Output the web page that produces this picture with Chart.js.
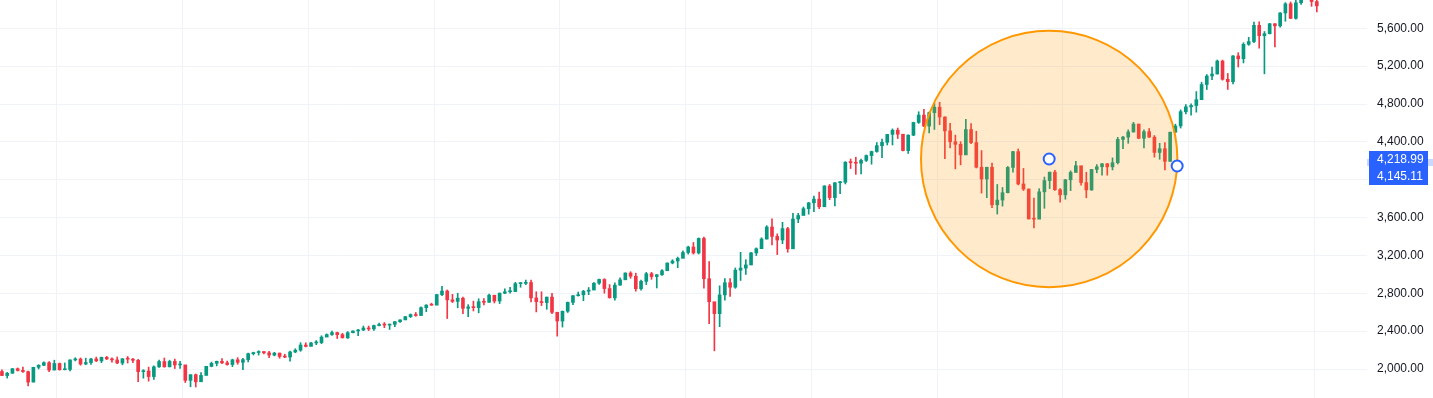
<!DOCTYPE html>
<html>
<head>
<meta charset="utf-8">
<script src="https://cdn.jsdelivr.net/npm/chart.js@4.4.1/dist/chart.umd.min.js"></script>
<style>
  html, body { margin: 0; padding: 0; background: #fff; overflow: hidden; }
</style>
</head>
<body>
<canvas id="chart" width="1433" height="398"></canvas>
<script>
// half-month candles, from the second half of July 2014 to early January 2025
const firstOpen = 1973;

const closes = [
  1931, 1955, 2003, 1985, 1972, 1862, 2018, 2039, 2067, 1989, 2058,
  1992, 1995, 2096, 2105, 2053, 2068, 2106, 2086, 2123, 2107, 2096, 2063, 2108, 2104, 2092, 1972, 1979, 1920, 2023, 2079, 2023, 2080, 2043, 2044,
  1880, 1940, 1865, 1932, 2028, 2060, 2081, 2065, 2047, 2097, 2071, 2099, 2162, 2174, 2184, 2171, 2147, 2168, 2133, 2126, 2180, 2199, 2253, 2239,
  2275, 2279, 2337, 2364, 2385, 2363, 2329, 2384, 2402, 2412, 2433, 2423, 2459, 2470, 2464, 2472, 2500, 2519, 2553, 2575, 2565, 2648, 2675, 2674,
  2786, 2824, 2731, 2714, 2748, 2641, 2656, 2648, 2711, 2705, 2780, 2718, 2801, 2816, 2818, 2902, 2905, 2914, 2751, 2712, 2702, 2760, 2599, 2507,
  2610, 2704, 2775, 2784, 2822, 2834, 2907, 2946, 2850, 2752, 2886, 2942, 3014, 2980, 2848, 2926, 3007, 2977, 2996, 3038, 3120, 3141, 3169, 3231,
  3289, 3226, 3380, 2954, 2711, 2585, 2783, 2912, 2864, 3044, 3066, 3100, 3227, 3271, 3373, 3500, 3401, 3363, 3483, 3270, 3585, 3622, 3694, 3756,
  3795, 3714, 3934, 3811, 3968, 3973, 4185, 4181, 4174, 4204, 4255, 4298, 4360, 4395, 4479, 4523, 4481, 4308, 4471, 4605, 4683, 4567, 4709, 4766,
  4663, 4516, 4401, 4374, 4262, 4530, 4392, 4132, 4008, 4132, 3735, 3785, 3863, 4130, 4297, 3955, 3901, 3586, 3583, 3872, 3991, 4080, 3895, 3840,
  3999, 4077, 4148, 3970, 3892, 4109, 4137, 4169, 4136, 4180, 4426, 4450, 4505, 4589, 4438, 4508, 4450, 4288, 4328, 4194, 4502, 4568, 4719, 4770,
  4784, 4846, 5006, 5096, 5117, 5254, 5061, 5036, 5308, 5278, 5431, 5460, 5631, 5522, 5543, 5648, 5626, 5762, 5859, 5705, 5870, 6032, 6075, 5882,
  5837
];

const highs = [
  1991, 1964, 2006, 2011, 2019, 1977, 2019, 2046, 2075, 2078, 2093,
  2064, 2064, 2097, 2119, 2117, 2114, 2112, 2126, 2126, 2134, 2117, 2127, 2110, 2132, 2112, 2103, 1993, 2020, 2034, 2094, 2116, 2093, 2104, 2081,
  2038, 1940, 1947, 1962, 2029, 2073, 2084, 2111, 2084, 2104, 2120, 2113, 2169, 2178, 2193, 2187, 2187, 2176, 2169, 2156, 2189, 2214, 2278, 2277,
  2283, 2301, 2351, 2371, 2401, 2390, 2378, 2396, 2404, 2418, 2454, 2454, 2463, 2484, 2491, 2475, 2500, 2520, 2557, 2582, 2597, 2657, 2680, 2695,
  2789, 2873, 2835, 2789, 2801, 2761, 2680, 2717, 2742, 2743, 2791, 2774, 2804, 2848, 2863, 2916, 2914, 2940, 2940, 2816, 2816, 2760, 2800, 2601,
  2613, 2708, 2776, 2813, 2831, 2861, 2912, 2949, 2954, 2892, 2910, 2964, 3017, 3028, 3013, 2939, 3021, 3022, 2998, 3050, 3121, 3155, 3183, 3248,
  3298, 3337, 3385, 3393, 3136, 2650, 2879, 2955, 2955, 3068, 3233, 3155, 3233, 3280, 3387, 3514, 3588, 3428, 3550, 3497, 3646, 3645, 3712, 3760,
  3826, 3870, 3937, 3950, 3970, 3983, 4191, 4219, 4238, 4218, 4262, 4302, 4393, 4430, 4480, 4537, 4546, 4479, 4475, 4608, 4718, 4743, 4714, 4808,
  4818, 4664, 4595, 4471, 4402, 4637, 4594, 4513, 4308, 4132, 4177, 3950, 3918, 4140, 4301, 4325, 4119, 3903, 3806, 3905, 4028, 4080, 4100, 3907,
  4004, 4094, 4195, 4137, 4079, 4110, 4160, 4170, 4171, 4231, 4448, 4458, 4527, 4607, 4585, 4528, 4541, 4467, 4385, 4393, 4504, 4587, 4738, 4793,
  4802, 4931, 5030, 5111, 5190, 5265, 5264, 5123, 5311, 5342, 5447, 5505, 5666, 5669, 5566, 5651, 5651, 5767, 5871, 5878, 6017, 6045, 6100, 6085,
  6022
];

const lows = [
  1930, 1904, 1955, 1978, 1964, 1821, 1862, 2001, 2034, 1973, 1990,
  1988, 1991, 1980, 2085, 2040, 2045, 2048, 2078, 2067, 2099, 2072, 2056, 2044, 2063, 2067, 1867, 1903, 1872, 1891, 2016, 2019, 2022, 2005, 2005,
  1857, 1812, 1810, 1871, 1937, 2023, 2033, 2057, 2040, 2025, 2050, 1992, 2074, 2148, 2147, 2160, 2120, 2139, 2114, 2120, 2084, 2172, 2187, 2233,
  2245, 2257, 2267, 2348, 2354, 2322, 2328, 2323, 2380, 2353, 2405, 2406, 2407, 2455, 2437, 2418, 2447, 2493, 2520, 2544, 2557, 2566, 2605, 2673,
  2682, 2776, 2533, 2702, 2647, 2585, 2553, 2613, 2594, 2676, 2704, 2698, 2691, 2795, 2802, 2818, 2864, 2891, 2710, 2603, 2670, 2631, 2584, 2347,
  2443, 2597, 2681, 2770, 2722, 2785, 2840, 2893, 2801, 2750, 2728, 2887, 2952, 2958, 2822, 2834, 2892, 2948, 2856, 2989, 3050, 3111, 3070, 3183,
  3214, 3214, 3215, 2855, 2478, 2192, 2447, 2727, 2766, 2853, 2936, 2999, 3101, 3199, 3284, 3373, 3310, 3209, 3324, 3234, 3279, 3546, 3633, 3636,
  3663, 3694, 3725, 3789, 3723, 3853, 3955, 4118, 4057, 4062, 4192, 4164, 4290, 4233, 4367, 4367, 4435, 4305, 4278, 4465, 4595, 4560, 4495, 4531,
  4582, 4222, 4335, 4115, 4157, 4270, 4381, 4124, 3859, 3810, 3705, 3637, 3721, 3860, 4080, 3945, 3886, 3584, 3491, 3647, 3698, 3906, 3886, 3764,
  3794, 3885, 4079, 3943, 3809, 3888, 4073, 4049, 4048, 4103, 4166, 4328, 4385, 4502, 4433, 4335, 4446, 4238, 4216, 4104, 4194, 4500, 4546, 4696,
  4682, 4714, 4845, 4953, 5057, 5117, 5052, 4954, 5011, 5191, 5234, 5420, 5447, 5390, 5119, 5540, 5402, 5612, 5674, 5702, 5696, 5853, 6024, 5832,
  5773
];

const priceTicks = [2000, 2400, 2800, 3200, 3600, 4000, 4400, 4800, 5200, 5600];
const hiddenTicks = [4000];
const yearLines = [2015, 2016, 2017, 2018, 2019, 2020, 2021, 2022, 2023, 2024, 2025];

// circle drawing: centre point and a point on the edge (time in years, price)
const circleCenter = { t: 2022.892, price: 4218.99 };
const circleEdge = { t: 2023.91, price: 4145.11 };

const UP = '#089981';
const DOWN = '#f23645';
const FONT = '"Liberation Sans", Arial, sans-serif';

// each candle covers half a month; the first one is the 14th half-month of 2014
const times = closes.map((_, i) => 2014 + (13 + i + 0.5) / 24);
const opens = closes.map((c, i) => i === 0 ? firstOpen : closes[i - 1]);
const colors = closes.map((c, i) => c >= opens[i] ? UP : DOWN);

const fmt = v => v.toLocaleString('en-US', { minimumFractionDigits: 2, maximumFractionDigits: 2 });

const drawingPlugin = {
  id: 'circleDrawing',
  afterDatasetsDraw(chart) {
    const { ctx, scales: { x, y } } = chart;
    const cx = x.getPixelForValue(circleCenter.t);
    const cy = y.getPixelForValue(circleCenter.price);
    const ex = x.getPixelForValue(circleEdge.t);
    const ey = y.getPixelForValue(circleEdge.price);
    const r = Math.hypot(ex - cx, ey - cy);

    ctx.save();
    ctx.beginPath();
    ctx.arc(cx, cy, r, 0, Math.PI * 2);
    ctx.fillStyle = 'rgba(255, 152, 0, 0.2)';
    ctx.fill();
    ctx.lineWidth = 2;
    ctx.strokeStyle = '#ff9800';
    ctx.stroke();

    [[cx, cy], [ex, ey]].forEach(([px, py]) => {
      ctx.beginPath();
      ctx.arc(px, py, 5.5, 0, Math.PI * 2);
      ctx.fillStyle = '#ffffff';
      ctx.fill();
      ctx.lineWidth = 2;
      ctx.strokeStyle = '#2962ff';
      ctx.stroke();
    });
    ctx.restore();
  },
  afterDraw(chart) {
    const { ctx, chartArea, scales: { y } } = chart;
    const cy = y.getPixelForValue(circleCenter.price);
    const ey = y.getPixelForValue(circleEdge.price);
    const left = chartArea.right;

    ctx.save();
    // highlighted price range on the axis
    ctx.fillStyle = 'rgba(41, 98, 255, 0.25)';
    ctx.fillRect(left, Math.min(cy, ey), chart.width - left, Math.abs(ey - cy));

    const h = 17;
    const top1 = Math.round(cy - 7.5);
    const boxes = [[top1, circleCenter.price], [top1 + h, circleEdge.price]];
    ctx.font = '12px ' + FONT;
    ctx.textBaseline = 'middle';
    ctx.textAlign = 'left';
    boxes.forEach(([top, price]) => {
      ctx.fillStyle = '#2962ff';
      ctx.fillRect(left + 2, top, 59, h);
      ctx.fillStyle = '#ffffff';
      ctx.fillText(fmt(price), left + 10, top + h / 2);
    });
    ctx.restore();
  }
};

new Chart(document.getElementById('chart'), {
  type: 'bar',
  data: {
    datasets: [
      {
        data: times.map((t, i) => ({ x: t, y: [lows[i], highs[i]] })),
        backgroundColor: colors,
        barThickness: 1,
        grouped: false,
        borderWidth: 0
      },
      {
        data: times.map((t, i) => ({ x: t, y: [opens[i], closes[i]] })),
        backgroundColor: colors,
        barThickness: 3,
        minBarLength: 1,
        grouped: false,
        borderWidth: 0
      }
    ]
  },
  options: {
    responsive: false,
    animation: false,
    layout: { padding: 0 },
    plugins: {
      legend: { display: false },
      tooltip: { enabled: false }
    },
    scales: {
      x: {
        type: 'linear',
        min: 2014.547,
        max: 2025.42,
        offset: false,
        afterBuildTicks: s => { s.ticks = yearLines.map(v => ({ value: v })); },
        afterFit: s => { s.height = 0; s.paddingLeft = 0; s.paddingRight = 0; },
        ticks: { display: false },
        grid: { color: '#f0f3fa', drawTicks: false, offset: false },
        border: { display: false }
      },
      y: {
        position: 'right',
        min: 1693.6,
        max: 5899,
        afterBuildTicks: s => { s.ticks = priceTicks.map(v => ({ value: v })); },
        afterFit: s => { s.width = 66; s.paddingTop = 0; s.paddingBottom = 0; },
        ticks: {
          padding: 10,
          color: '#131722',
          font: { family: FONT, size: 12 },
          callback: v => hiddenTicks.includes(v) ? '' : fmt(v)
        },
        grid: { color: '#f0f3fa', drawTicks: false },
        border: { display: false }
      }
    }
  },
  plugins: [drawingPlugin]
});
</script>
</body>
</html>
